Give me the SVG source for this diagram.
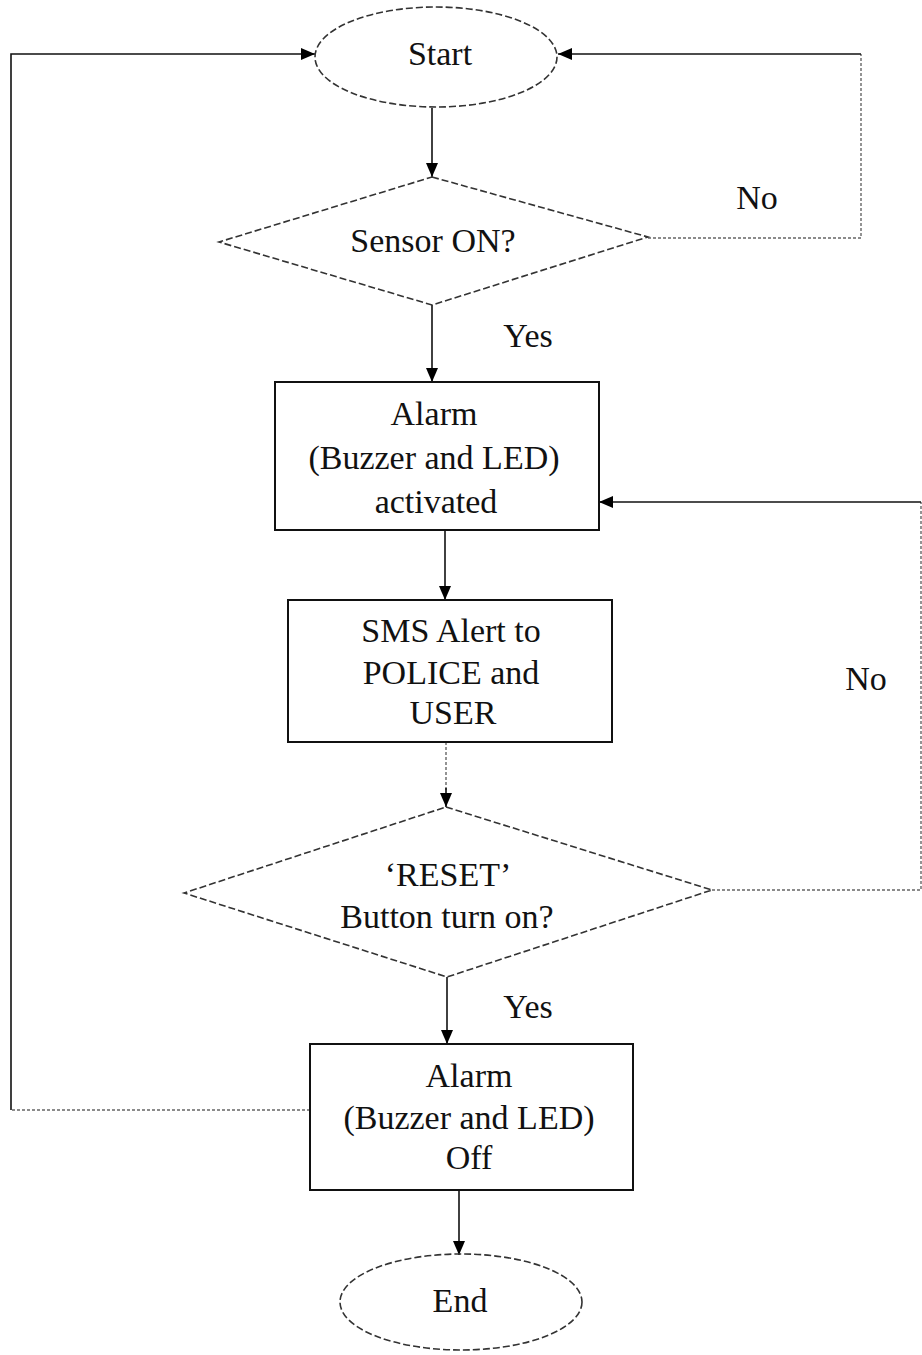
<svg xmlns="http://www.w3.org/2000/svg" width="922" height="1355" viewBox="0 0 922 1355">
<style>
.t{font-family:"Liberation Serif","Times New Roman",serif;font-size:34px;fill:#111;text-anchor:middle;dominant-baseline:central}
.term,.dec{fill:none;stroke:#333;stroke-width:1.6;stroke-dasharray:7 3}
.box{fill:none;stroke:#111;stroke-width:2}
.c{fill:none;stroke:#111;stroke-width:1.6}
.cl{fill:none;stroke:#666;stroke-width:1.4;stroke-dasharray:3 2}
</style>
<defs>
<marker id="ah" viewBox="0 0 14 12" refX="14" refY="6" markerWidth="14" markerHeight="12" markerUnits="userSpaceOnUse" orient="auto">
<path d="M0,0 L14,6 L0,12 Z" fill="#000"/>
</marker>
</defs>
<g id="connectors">
<path class="c" d="M11,1110 L11,54 L315,54" marker-end="url(#ah)"/>
<path class="cl" d="M310,1110 L11,1110"/>
<path class="cl" d="M648,238 L861,238 L861,54"/>
<path class="c" d="M861,54 L558,54" marker-end="url(#ah)"/>
<path class="c" d="M432,108 L432,177" marker-end="url(#ah)"/>
<path class="c" d="M432,305 L432,382" marker-end="url(#ah)"/>
<path class="c" d="M445,530 L445,600" marker-end="url(#ah)"/>
<path class="cl" d="M446,742 L446,790"/>
<path class="c" d="M446,788 L446,807" marker-end="url(#ah)"/>
<path class="cl" d="M712,890 L921,890 L921,502"/>
<path class="c" d="M921,502 L599,502" marker-end="url(#ah)"/>
<path class="c" d="M447,977 L447,1044" marker-end="url(#ah)"/>
<path class="c" d="M459,1190 L459,1255" marker-end="url(#ah)"/>
</g>
<g id="start">
<ellipse class="term" cx="436" cy="57" rx="121" ry="50"/>
<text class="t" x="440" y="53">Start</text>
</g>
<g id="sensor">
<polygon class="dec" points="432,177 648,237 432,305 219,242"/>
<text class="t" x="433" y="240">Sensor ON?</text>
</g>
<g id="labels">
<text class="t" x="757" y="197">No</text>
<text class="t" x="528" y="335">Yes</text>
<text class="t" x="866" y="678">No</text>
<text class="t" x="528" y="1006">Yes</text>
</g>
<g id="alarm-on">
<rect class="box" x="275" y="382" width="324" height="148"/>
<text class="t" x="434" y="413">Alarm</text>
<text class="t" x="434" y="457">(Buzzer and LED)</text>
<text class="t" x="436" y="501">activated</text>
</g>
<g id="sms">
<rect class="box" x="288" y="600" width="324" height="142"/>
<text class="t" x="451" y="630">SMS Alert to</text>
<text class="t" x="451" y="672">POLICE and</text>
<text class="t" x="453" y="712">USER</text>
</g>
<g id="reset">
<polygon class="dec" points="446,807 712,890 447,977 184,893"/>
<text class="t" x="448" y="874">‘RESET’</text>
<text class="t" x="447" y="916">Button turn on?</text>
</g>
<g id="alarm-off">
<rect class="box" x="310" y="1044" width="323" height="146"/>
<text class="t" x="469" y="1075">Alarm</text>
<text class="t" x="469" y="1117">(Buzzer and LED)</text>
<text class="t" x="469" y="1157">Off</text>
</g>
<g id="end">
<ellipse class="term" cx="461" cy="1302" rx="121" ry="48"/>
<text class="t" x="460" y="1300">End</text>
</g>
</svg>
